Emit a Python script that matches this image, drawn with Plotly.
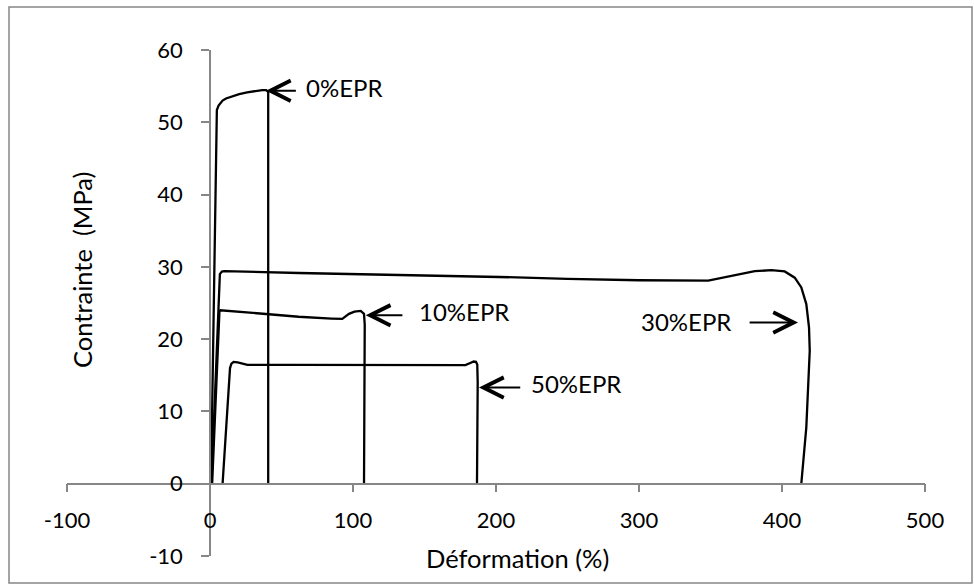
import plotly.graph_objects as go

# ---- data ----
eps_0 = [0.7, 4.3, 4.8, 6.0, 8.8, 11.2, 15.8, 20.4, 26.0, 32.1, 36.5, 39.3, 40.7, 40.7]
sig_0 = [0.0, 50.9, 51.7, 52.3, 53.0, 53.3, 53.6, 53.9, 54.15, 54.35, 54.45, 54.45, 54.2, 0.0]

eps_10 = [1.5, 6.6, 7.3, 30.0, 62.0, 85.0, 92.5, 97.2, 101.0, 105.4, 107.7, 108.2, 107.7]
sig_10 = [0.0, 23.8, 24.0, 23.6, 23.1, 22.85, 22.8, 23.5, 23.8, 23.9, 23.5, 22.0, 0.0]

eps_30 = [1.0, 6.2, 6.6, 6.9, 8.3, 10.0, 62.0, 150.0, 202.0, 250.0, 300.0, 348.4, 358.0,
          369.4, 381.0, 392.6, 401.9, 408.9, 413.5, 417.0, 418.9, 419.4, 418.7, 417.0, 413.5]
sig_30 = [0.0, 27.5, 27.7, 29.0, 29.35, 29.4, 29.15, 28.85, 28.6, 28.35, 28.15, 28.1, 28.5,
          29.0, 29.4, 29.55, 29.37, 28.5, 27.15, 24.85, 21.6, 18.4, 14.7, 7.8, 0.0]

eps_50 = [8.8, 14.0, 15.0, 16.5, 19.3, 26.2, 60.0, 120.0, 178.6, 182.0, 184.4, 186.0, 186.9, 187.2, 186.7]
sig_50 = [0.0, 16.0, 16.6, 16.85, 16.8, 16.45, 16.45, 16.4, 16.4, 16.7, 16.9, 16.85, 16.5, 14.0, 0.0]

labels = ["0%EPR", "10%EPR", "30%EPR", "50%EPR"]
label_x = [65.8, 144.9, 365.9, 222.8]
label_y = [54.8, 23.8, 22.5, 13.9]
label_anchor = ["left", "left", "right", "left"]
arrow_tail_x = [61.1, 135.6, 376.3, 218.0]
arrow_tip_x = [39.1, 108.9, 411.2, 188.1]
arrow_y = [54.36, 23.3, 22.3, 13.3]

x_ticks = [-100, 0, 100, 200, 300, 400, 500]
y_ticks = [-10, 0, 10, 20, 30, 40, 50, 60]
x_title = "Déformation (%)"
y_title = "Contrainte\u00a0 (MPa)"

# ---- figure ----
FONT = "Lato"
fig = go.Figure()
for ex, sy in [(eps_0, sig_0), (eps_10, sig_10), (eps_30, sig_30), (eps_50, sig_50)]:
    fig.add_trace(go.Scatter(x=ex, y=sy, mode="lines",
                             line=dict(color="black", width=2.3), hoverinfo="skip"))

axis_col = "#868686"
fig.update_xaxes(range=[-100, 500], tickvals=x_ticks, ticktext=[str(v) for v in x_ticks],
                 showline=True, linecolor=axis_col, linewidth=1.5,
                 ticks="outside", ticklen=8, tickcolor=axis_col, tickwidth=1.5,
                 showgrid=False, zeroline=False, anchor="free", position=1/7,
                 tickfont=dict(family=FONT, size=22, color="black"),
                 ticklabelstandoff=9)
fig.update_yaxes(range=[-10, 60], tickvals=y_ticks, ticktext=[str(v) for v in y_ticks],
                 showline=True, linecolor=axis_col, linewidth=1.5,
                 ticks="outside", ticklen=8, tickcolor=axis_col, tickwidth=1.5,
                 showgrid=False, zeroline=False, anchor="free", position=1/6,
                 tickfont=dict(family=FONT, size=22, color="black"),
                 ticklabelstandoff=14)

L, R, T, B = 67, 49, 50, 29
W, H = 974, 585
PW, PH = W - L - R, H - T - B

def px(xp):
    return (xp - L) / PW

def py(yp):
    return (H - B - yp) / PH

annotations = []
for lab, lx, ly, anc in zip(labels, label_x, label_y, label_anchor):
    annotations.append(dict(x=lx, y=ly, xref="x", yref="y", text=lab, showarrow=False,
                            xanchor=anc, yanchor="middle",
                            font=dict(family=FONT, size=24, color="black")))
for tx, hx, ay in zip(arrow_tail_x, arrow_tip_x, arrow_y):
    annotations.append(dict(x=hx, y=ay, ax=tx, ay=ay, xref="x", yref="y",
                            axref="x", ayref="y", text="", showarrow=True,
                            arrowhead=5, arrowsize=2.0, arrowwidth=2, arrowcolor="black"))
annotations.append(dict(x=px(517.5), y=py(558), xref="paper", yref="paper", text=x_title,
                        showarrow=False, xanchor="center", yanchor="middle",
                        font=dict(family=FONT, size=25.5, color="black")))
annotations.append(dict(x=px(82), y=py(270), xref="paper", yref="paper", text=y_title,
                        showarrow=False, xanchor="center", yanchor="middle", textangle=-90,
                        font=dict(family=FONT, size=25.5, color="black")))

fig.update_layout(width=W, height=H, margin=dict(l=L, r=R, t=T, b=B),
                  plot_bgcolor="white", paper_bgcolor="white", showlegend=False,
                  font=dict(family=FONT, color="black"),
                  annotations=annotations,
                  shapes=[dict(type="rect", xref="paper", yref="paper",
                               x0=px(9), x1=px(972), y0=py(583), y1=py(7),
                               line=dict(color=axis_col, width=1.5), layer="below")])

fig.write_html("out.html")
